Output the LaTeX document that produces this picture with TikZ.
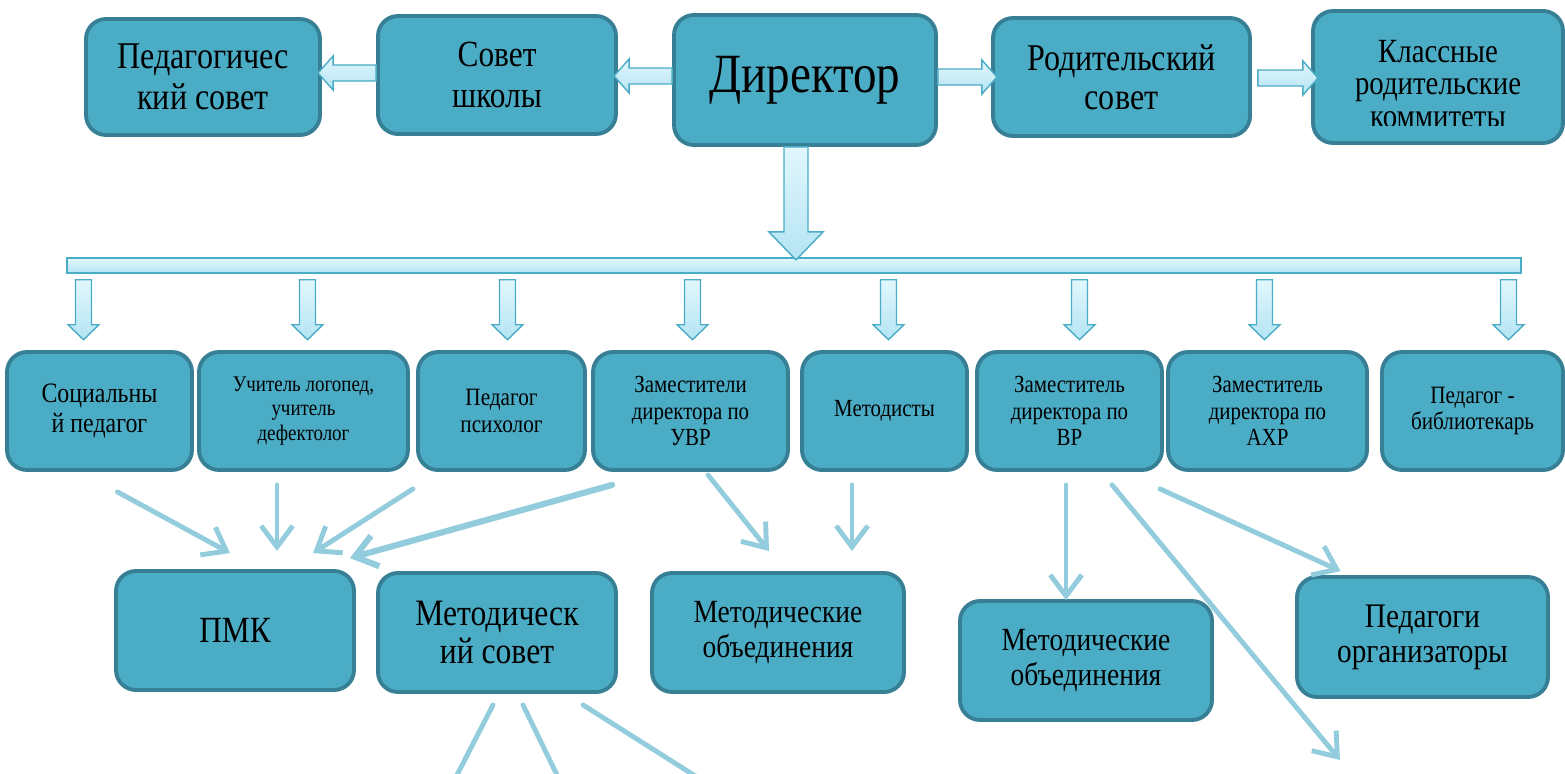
\documentclass[tikz,border=0pt]{standalone}
\usepackage{fontspec}
\setmainfont{Liberation Serif}[FakeStretch=0.85]
\usetikzlibrary{arrows.meta,calc}

\definecolor{boxfill}{HTML}{4BACC6}
\definecolor{boxline}{HTML}{367F95}
\definecolor{arrtop}{HTML}{E2F7FD}
\definecolor{arrbot}{HTML}{B4E4F3}
\definecolor{arrline}{HTML}{4BACC6}
\definecolor{linkcol}{HTML}{93CDDD}

\begin{document}
\begin{tikzpicture}[x=0.02cm,y=-0.02cm,
  box/.style={draw=boxline,line width=2.2pt,fill=boxfill,rounded corners=0.4cm,
    align=center,inner sep=0pt,text=black},
  wh/.style 2 args={minimum width={#1*0.02cm},minimum height={#2*0.02cm}},
  fsz/.style 2 args={font=\fontsize{#1}{#2}\selectfont},
  barbody/.style={draw=arrline,line width=0.8pt,top color=arrtop,bottom color=arrbot},
  link/.style={draw=linkcol,line width=2.8pt,line cap=round,
    -{Straight Barb[length=12pt,width=18pt]}},
  pics/barrow/.style n args={4}{code={
    \path[barbody] (0,-#2) -- (#1-#4,-#2) -- (#1-#4,-#3) -- (#1,0)
      -- (#1-#4,#3) -- (#1-#4,#2) -- (0,#2) -- cycle;
  }}]
\useasboundingbox (0,0) rectangle (1565,774);
\clip (0,0) rectangle (1565,774);

% top row
\node[box,wh={234}{116},fsz={21.5}{23}] (ped) at (203,77) {Педагогичес\\кий совет};
\node[box,wh={238}{118},fsz={21}{23}] (sovet) at (497,75) {Совет\\школы};
\node[box,wh={262}{130},fsz={31.5}{32}] (dir) at (805,80) {Директор};
\node[box,wh={257}{118},fsz={21.5}{22}] (rod) at (1121.5,77) {Родительский\\совет};
\node[box,wh={250}{132}] (klass) at (1438,77) {};
\begin{scope}
  \clip (1312,11) rectangle (1565,125);
  \node[align=center,inner sep=0pt,fsz={19.3}{18.7}] (klasst) at (1438,84) {Классные\\родительские\\коммитеты};
\end{scope}

\path ([yshift=0.04cm]sovet.west) pic[rotate=180] {barrow={58}{8}{17}{15}};
\path ([yshift=0.08cm]dir.west) pic[rotate=180] {barrow={58}{8}{17}{15}};
\path ([yshift=0.06cm]dir.east) pic {barrow={59}{8}{17}{15}};
\path ([xshift=0.12cm,yshift=-0.02cm]rod.east) pic {barrow={60}{8}{17}{15}};

% bar
\node[barbody,inner sep=0pt,wh={1454}{15}] (bar) at (794,265.5) {};
\path ([xshift=-0.18cm]dir.south) pic[rotate=-90] {barrow={113}{12}{27}{28}};

% second row
\node[box,wh={185}{118},fsz={16}{17}] (soc) at (99.5,411) {Социальны\\й педагог};
\node[box,wh={209}{118},fsz={12.7}{13.8}] (log) at (303.5,411) {Учитель логопед,\\учитель\\дефектолог};
\node[box,wh={167}{118},fsz={14.2}{15}] (psy) at (501.5,411) {Педагог\\психолог};
\node[box,wh={195}{118},fsz={14}{14.9}] (uvr) at (690.5,411) {Заместители\\директора по\\УВР};
\node[box,wh={165}{118},fsz={14}{14.9}] (met) at (884.5,411) {Методисты};
\node[box,wh={185}{118},fsz={14}{14.9}] (vr) at (1069.5,411) {Заместитель\\директора по\\ВР};
\node[box,wh={199}{118},fsz={14}{14.9}] (ahr) at (1267.5,411) {Заместитель\\директора по\\АХР};
\node[box,wh={181}{118},fsz={14.2}{15}] (bib) at (1472.5,411) {Педагог -\\библиотекарь};

\foreach \n/\dx in {soc/-16,log/4,psy/6,uvr/2,met/4,vr/10,ahr/-3,bib/36}
  \path ($(bar.south -| \n.north)+(\dx,6)$) pic[rotate=-90] {barrow={60}{8}{15.5}{15}};

% third row
\node[box,wh={238}{119},fsz={21}{22}] (pmk) at (235,630.5) {ПМК};
\node[box,wh={238}{119},fsz={21.2}{22}] (msov) at (497,632.5) {Методическ\\ий совет};
\node[box,wh={252}{119},fsz={18.4}{19.8}] (mo1) at (778,632.5) {Методические\\объединения};
\node[box,wh={252}{119},fsz={18.4}{19.8}] (mo2) at (1086,660.5) {Методические\\объединения};
\node[box,wh={251}{120},fsz={19.6}{19.8}] (porg) at (1422.5,637) {Педагоги\\организаторы};

\coordinate (far) at (1340,760);
\coordinate (ms1) at (439,810);
\coordinate (ms2) at (574,810);
\coordinate (ms3) at (749,810);

\draw[link] ($(soc.south)+(18,20)$) -- ($(pmk.north)+(-5,-16)$);
\draw[link] ($(log.south)+(-26.5,13)$) -- ($(pmk.north)+(42,-18)$);
\draw[link] ($(log.south east)+(3,17)$) -- ($(pmk.north)+(78,-16)$);
\draw[link,line width=3.5pt] ($(uvr.south west)+(21,13)$) -- ($(pmk.north east)+(-6,-11)$);
\draw[link] ($(uvr.south)+(17.5,3)$) -- ($(mo1.north)+(-9,-20)$);
\draw[link] ($(met.south)+(-32.5,13)$) -- ($(mo1.north)+(74,-20)$);
\draw[link] ($(vr.south)+(-3.5,13)$) -- ($(mo2.north)+(-20,1)$);
\draw[link] ($(vr.south)+(42.5,13)$) -- (far);
\draw[link] ($(vr.south)+(90.5,17)$) -- ($(porg.north)+(-82,-4)$);
\draw[link] ($(msov.south)+(-4,11)$) -- (ms1);
\draw[link] ($(msov.south)+(26,11)$) -- (ms2);
\draw[link] ($(msov.south)+(86,11)$) -- (ms3);
\end{tikzpicture}
\end{document}
